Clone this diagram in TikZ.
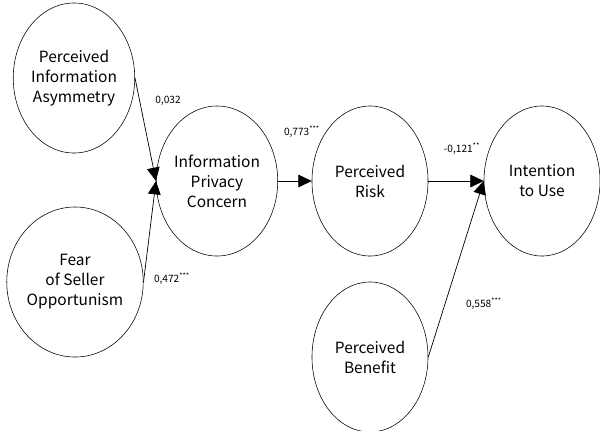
\documentclass[tikz,border=0pt]{standalone}
\usepackage{fontspec}
\setmainfont{Noto Sans CJK KR}
\usetikzlibrary{shapes.geometric,arrows.meta}

\begin{document}
\begin{tikzpicture}
		[x=0.025cm,y=-0.025cm,
		 n/.style= {draw=black,ellipse,minimum width=2.9cm,minimum height=3.75cm,inner sep=0pt,align=center,font=\fontsize{11}{14.2}\selectfont},
		 c/.style= {draw=black,line width=0.5pt,-{Triangle[length=9.5pt,width=9pt]}},
		 w/.style= {inner sep=0pt,font=\fontsize{7.2}{8}\selectfont}]

		\useasboundingbox (0,0) rectangle (600,430);

		\node[n] (pia) at ( 74,78) {Perceived\\Information\\Asymmetry};
		\node[n] (fso) at ( 75,282) {Fear\\of Seller\\Opportunism};
		\node[n] (ipc) at (217,181) {Information\\Privacy\\Concern};
		\node[n] (pr) at (370,181) {Perceived\\Risk};
		\node[n] (iu) at (542,181) {Intention\\to Use};
		\node[n] (pb) at (370,357) {Perceived\\Benefit};

		\draw[c] (pia.east) -- (ipc.west);
		\draw[c] (fso.east) -- (ipc.west);
		\draw[c] (ipc.east) -- (pr.west);
		\draw[c] (pr.east) -- (iu.west);
		\draw[c] (pb.east) -- (iu.west);

		\node[w] (w1) at (168,101) {0,032};
		\node[w] (w2) at (172,279) {0,472\textsuperscript{***}};
		\node[w] (w3) at (302,132) {0,773\textsuperscript{***}};
		\node[w] (w4) at (462,149) {-0,121\textsuperscript{**}};
		\node[w] (w5) at (484,304) {0,558\textsuperscript{***}};

	\end{tikzpicture}
\end{document}
